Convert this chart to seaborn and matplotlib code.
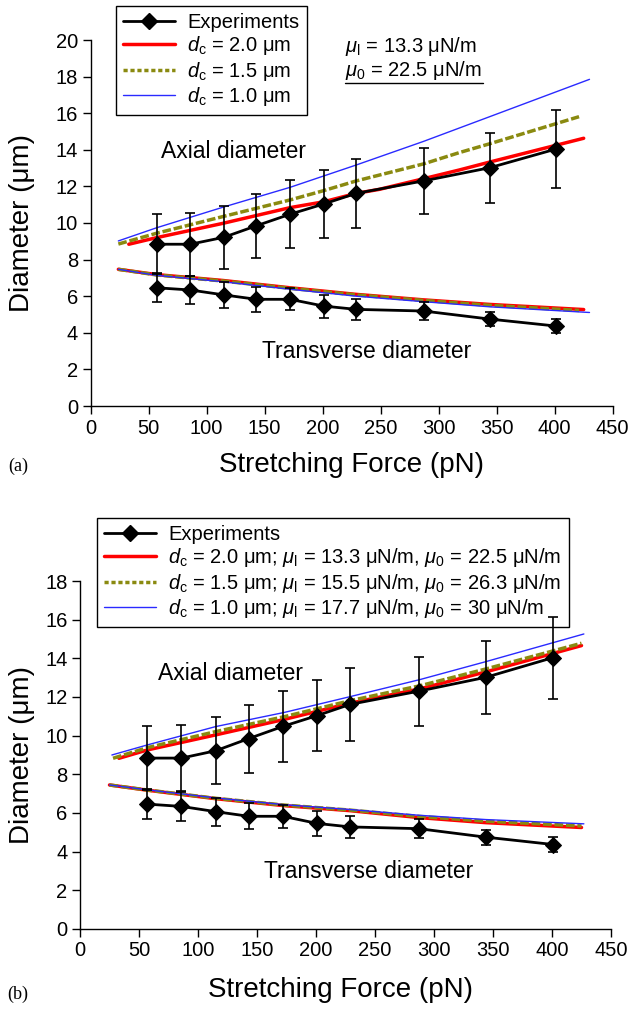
import numpy as np
import pandas as pd
import matplotlib
matplotlib.use("Agg")
import matplotlib.pyplot as plt
from matplotlib.lines import Line2D
import seaborn as sns

# ---------------- data ----------------
force_exp = [57, 86, 115, 143, 172, 201, 229, 287, 344, 401]
axial_exp = [8.84, 8.84, 9.22, 9.85, 10.48, 11.04, 11.62, 12.30, 13.02, 14.04]
axial_err = [1.65, 1.72, 1.73, 1.76, 1.85, 1.85, 1.87, 1.79, 1.90, 2.12]
trans_exp = [6.46, 6.34, 6.07, 5.83, 5.83, 5.46, 5.28, 5.19, 4.75, 4.37]
trans_err = [0.79, 0.75, 0.73, 0.68, 0.60, 0.63, 0.59, 0.48, 0.38, 0.37]

# panel (a) model curves
a_red_ax_F = [33, 57, 114, 172, 201, 229, 249, 287, 318, 344, 425]
a_red_ax = [8.84, 9.20, 9.98, 10.84, 11.16, 11.62, 11.84, 12.42, 12.90, 13.33, 14.63]
a_olv_ax_F = [24, 57, 114, 172, 201, 229, 249, 287, 318, 344, 421]
a_olv_ax = [8.85, 9.44, 10.35, 11.26, 11.77, 12.30, 12.62, 13.23, 13.85, 14.33, 15.81]
a_blu_ax_F = [24, 57, 114, 172, 229, 287, 344, 430]
a_blu_ax = [9.02, 9.74, 10.86, 11.95, 13.17, 14.46, 15.81, 17.85]

a_red_tr_F = [24, 57, 114, 172, 229, 287, 344, 425]
a_red_tr = [7.47, 7.18, 6.86, 6.46, 6.10, 5.80, 5.55, 5.27]
a_olv_tr_F = [24, 57, 114, 172, 229, 287, 344, 421]
a_olv_tr = [7.47, 7.16, 6.83, 6.43, 6.07, 5.77, 5.50, 5.22]
a_blu_tr_F = [24, 57, 114, 172, 229, 287, 344, 430]
a_blu_tr = [7.47, 7.14, 6.79, 6.38, 6.00, 5.70, 5.42, 5.11]

# panel (b) model curves
b_red_ax_F = [33, 57, 115, 173, 229, 288, 344, 425]
b_red_ax = [8.83, 9.26, 10.04, 10.84, 11.68, 12.42, 13.30, 14.66]
b_olv_ax_F = [28, 57, 115, 173, 229, 288, 344, 425]
b_olv_ax = [8.83, 9.38, 10.21, 10.98, 11.81, 12.58, 13.45, 14.78]
b_blu_ax_F = [27, 57, 115, 173, 229, 288, 344, 427]
b_blu_ax = [9.00, 9.52, 10.47, 11.20, 12.02, 12.90, 13.83, 15.26]

b_red_tr_F = [25, 57, 115, 173, 229, 288, 344, 425]
b_red_tr = [7.45, 7.18, 6.74, 6.38, 6.12, 5.76, 5.50, 5.25]
b_olv_tr_F = [25, 57, 115, 173, 229, 288, 344, 425]
b_olv_tr = [7.45, 7.19, 6.76, 6.41, 6.15, 5.82, 5.58, 5.33]
b_blu_tr_F = [25, 57, 115, 173, 229, 288, 344, 427]
b_blu_tr = [7.45, 7.20, 6.78, 6.43, 6.18, 5.88, 5.66, 5.44]

legend_a = ["Experiments",
            r"$d_\mathrm{c}$ = 2.0 μm",
            r"$d_\mathrm{c}$ = 1.5 μm",
            r"$d_\mathrm{c}$ = 1.0 μm"]
legend_b = ["Experiments",
            r"$d_\mathrm{c}$ = 2.0 μm; $\mu_\mathrm{l}$ = 13.3 μN/m, $\mu_0$ = 22.5 μN/m",
            r"$d_\mathrm{c}$ = 1.5 μm; $\mu_\mathrm{l}$ = 15.5 μN/m, $\mu_0$ = 26.3 μN/m",
            r"$d_\mathrm{c}$ = 1.0 μm; $\mu_\mathrm{l}$ = 17.7 μN/m, $\mu_0$ = 30 μN/m"]

x_ticks = [0, 50, 100, 150, 200, 250, 300, 350, 400, 450]

# ---------------- style ----------------
sns.set_style("ticks")
plt.rcParams["font.family"] = ["Liberation Sans", "DejaVu Sans"]
plt.rcParams["mathtext.fontset"] = "custom"
plt.rcParams["mathtext.rm"] = "Liberation Sans"
plt.rcParams["mathtext.it"] = "Liberation Sans:italic"
plt.rcParams["mathtext.bf"] = "Liberation Sans:bold"
plt.rcParams["axes.linewidth"] = 1.0
for key in ["text.color", "axes.labelcolor", "xtick.color", "ytick.color",
            "xtick.labelcolor", "ytick.labelcolor", "axes.edgecolor"]:
    plt.rcParams[key] = "black"

RED = "#ff0000"
OLIVE = "#8a8a10"
BLUE = "#2a2aff"

fig = plt.figure(figsize=(6.3, 10.14), dpi=100)
W, H = 630, 1014
ax_a = fig.add_axes([90.5 / W, 1 - 406 / H, 522.2 / W, 366 / H])
ax_b = fig.add_axes([80 / W, 1 - 929 / H, 531 / W, 348 / H])


def model(ax, F, y, color, lw, ls):
    df = pd.DataFrame({"F": F, "d": y})
    sns.lineplot(data=df, x="F", y="d", ax=ax, color=color, linewidth=lw,
                 linestyle=ls, sort=False, estimator=None, legend=False)


def draw_panel(ax, curves, ymax, legend_labels, legend_anchor, text_pos):
    for (F, y, color, lw, ls) in curves:
        model(ax, F, y, color, lw, ls)
    for vals, err in [(axial_exp, axial_err), (trans_exp, trans_err)]:
        ax.errorbar(force_exp, vals, yerr=err, fmt="none", ecolor="black",
                    elinewidth=1.2, capsize=3.5, capthick=1.2, zorder=6)
        df = pd.DataFrame({"F": force_exp, "d": vals})
        sns.lineplot(data=df, x="F", y="d", ax=ax, color="black", linewidth=2.0,
                     marker="D", markersize=8, markeredgecolor="black",
                     sort=False, estimator=None, legend=False, zorder=7)
    ax.set_xlim(0, 450)
    ax.set_ylim(0, ymax)
    ax.set_xticks(x_ticks)
    ax.set_yticks(np.arange(0, ymax + 1, 2))
    ax.tick_params(axis="both", labelsize=14.5, length=6, width=1,
                   direction="out", color="black", labelcolor="black", pad=3)
    sns.despine(ax=ax)
    for s in ["left", "bottom"]:
        ax.spines[s].set_color("black")
    ax.set_xlabel("Stretching Force (pN)", fontsize=20, color="black")
    ax.set_ylabel("Diameter (μm)", fontsize=20, color="black")
    ax.text(text_pos[0][0], text_pos[0][1], "Axial diameter", fontsize=16.5,
            ha="left", va="center", color="black")
    ax.text(text_pos[1][0], text_pos[1][1], "Transverse diameter", fontsize=16.5,
            ha="left", va="center", color="black")
    handles = [Line2D([], [], color="black", lw=2.0, marker="D", markersize=8),
               Line2D([], [], color=RED, lw=2.5),
               Line2D([], [], color=OLIVE, lw=2.5, linestyle=(0, (1.2, 0.8))),
               Line2D([], [], color=BLUE, lw=1.0)]
    leg = ax.legend(handles, legend_labels, loc="upper left",
                    bbox_to_anchor=legend_anchor, bbox_transform=fig.transFigure,
                    borderaxespad=0, fontsize=14.5, frameon=True, fancybox=False,
                    framealpha=1, edgecolor="black", handlelength=2.6,
                    labelspacing=0.12, borderpad=0.35, handletextpad=0.6,
                    labelcolor="black")
    leg.get_frame().set_linewidth(1.0)
    leg.set_zorder(5)


curves_a = [
    (a_red_ax_F, a_red_ax, RED, 2.5, "-"),
    (a_olv_ax_F, a_olv_ax, OLIVE, 2.5, (0, (2.5, 0.8))),
    (a_blu_ax_F, a_blu_ax, BLUE, 1.0, "-"),
    (a_red_tr_F, a_red_tr, RED, 2.5, "-"),
    (a_olv_tr_F, a_olv_tr, OLIVE, 2.5, (0, (2.5, 0.8))),
    (a_blu_tr_F, a_blu_tr, BLUE, 1.0, "-"),
]
curves_b = [
    (b_red_ax_F, b_red_ax, RED, 2.5, "-"),
    (b_olv_ax_F, b_olv_ax, OLIVE, 2.5, (0, (2.5, 0.8))),
    (b_blu_ax_F, b_blu_ax, BLUE, 1.0, "-"),
    (b_red_tr_F, b_red_tr, RED, 2.5, "-"),
    (b_olv_tr_F, b_olv_tr, OLIVE, 2.5, (0, (2.5, 0.8))),
    (b_blu_tr_F, b_blu_tr, BLUE, 1.0, "-"),
]

draw_panel(ax_a, curves_a, 20, legend_a, (116 / W, 1 - 6 / H),
           [(61, 13.9), (148, 2.97)])
draw_panel(ax_b, curves_b, 18, legend_b, (97 / W, 1 - 518 / H),
           [(66, 13.23), (156, 2.96)])

# axis label positions
ax_a.yaxis.label.set_va("center")
ax_a.yaxis.set_label_coords((22 - 90.5) / 522.2, 0.5)
ax_b.yaxis.label.set_va("center")
ax_b.yaxis.set_label_coords((22 - 80) / 531, 0.5)
ax_a.xaxis.label.set_va("center")
ax_a.xaxis.set_label_coords(0.5, (406 - 465) / 366)
ax_b.xaxis.label.set_va("center")
ax_b.xaxis.set_label_coords(0.49, (929 - 990) / 348)

# parameter annotation in panel (a)
fig.text(345 / W, 1 - 47 / H, r"$\mu_\mathrm{l}$ = 13.3 μN/m", fontsize=14.5,
         ha="left", va="center", color="black")
fig.text(345 / W, 1 - 70 / H, r"$\mu_0$ = 22.5 μN/m", fontsize=14.5,
         ha="left", va="center", color="black")
fig.add_artist(Line2D([345 / W, 483 / W], [1 - 83 / H, 1 - 83 / H],
                      color="black", lw=1.0, transform=fig.transFigure))

# panel letters
fig.text(18 / W, 1 - 466 / H, "(a)", fontsize=13, family="Liberation Serif",
         ha="center", va="center", color="black")
fig.text(18 / W, 1 - 994 / H, "(b)", fontsize=13, family="Liberation Serif",
         ha="center", va="center", color="black")

fig.savefig("out.png", dpi=100)
